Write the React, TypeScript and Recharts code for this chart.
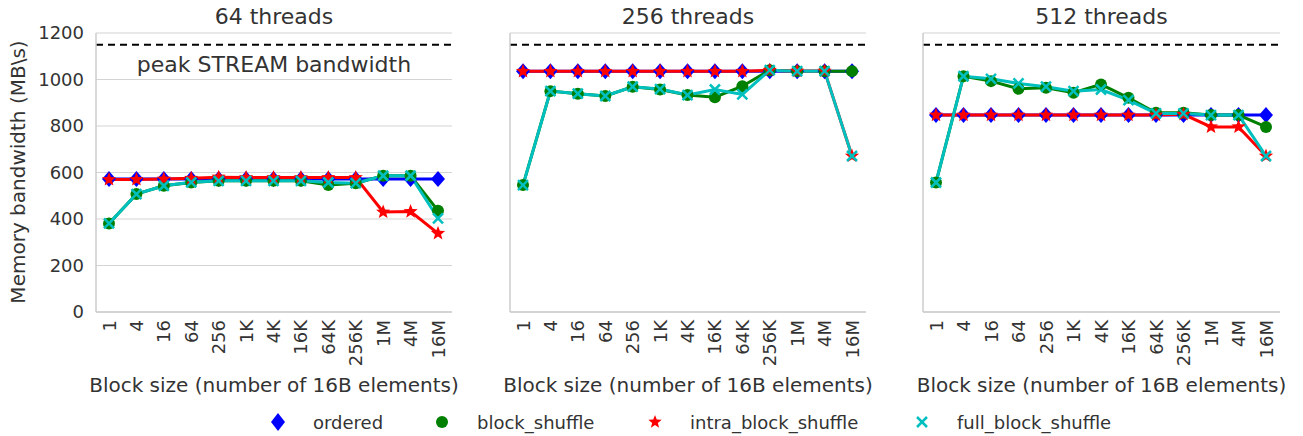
import React from 'react';
import { LineChart, Line, XAxis, YAxis, CartesianGrid, ReferenceLine } from 'recharts';

const blockSizes = ['1', '4', '16', '64', '256', '1K', '4K', '16K', '64K', '256K', '1M', '4M', '16M'];
const yTicks = [0, 200, 400, 600, 800, 1000, 1200];
const peakStream = 1150;

// 64 threads
const ordered64 = [572, 572, 572, 572, 572, 572, 572, 572, 572, 572, 572, 572, 572];
const blockShuffle64 = [381, 507, 543, 557, 564, 564, 564, 564, 546, 554, 586, 586, 436];
const intraBlockShuffle64 = [570, 570, 572, 575, 580, 578, 578, 578, 578, 578, 430, 432, 338];
const fullBlockShuffle64 = [381, 507, 543, 558, 564, 564, 564, 564, 557, 554, 586, 586, 403];

// 256 threads
const ordered256 = [1035, 1035, 1035, 1035, 1035, 1035, 1035, 1035, 1035, 1035, 1035, 1035, 1035];
const blockShuffle256 = [546, 950, 939, 929, 969, 957, 933, 924, 971, 1040, 1036, 1036, 1036];
const intraBlockShuffle256 = [1035, 1035, 1035, 1035, 1035, 1035, 1035, 1035, 1035, 1040, 1036, 1036, 671];
const fullBlockShuffle256 = [546, 950, 939, 929, 969, 959, 933, 957, 936, 1040, 1036, 1036, 671];

// 512 threads
const ordered512 = [847, 847, 847, 847, 847, 847, 847, 847, 847, 847, 847, 847, 847];
const blockShuffle512 = [557, 1014, 993, 960, 964, 943, 979, 921, 857, 857, 847, 847, 796];
const intraBlockShuffle512 = [847, 847, 847, 847, 847, 847, 847, 847, 847, 850, 796, 796, 671];
const fullBlockShuffle512 = [557, 1014, 1003, 983, 969, 950, 957, 911, 854, 854, 847, 847, 671];

const panels = [
  { title: '64 threads', ordered: ordered64, block: blockShuffle64, intra: intraBlockShuffle64, full: fullBlockShuffle64 },
  { title: '256 threads', ordered: ordered256, block: blockShuffle256, intra: intraBlockShuffle256, full: fullBlockShuffle256 },
  { title: '512 threads', ordered: ordered512, block: blockShuffle512, intra: intraBlockShuffle512, full: fullBlockShuffle512 },
];

const FONT = '"DejaVu Sans", sans-serif';
const TEXT = '#333333';
const BLUE = '#0000ff';
const GREEN = '#008000';
const RED = '#ff0000';
const CYAN = '#00bfbf';

const diamondPath = (cx: number, cy: number, w: number, h: number) =>
  `M${cx},${cy - h} L${cx + w},${cy} L${cx},${cy + h} L${cx - w},${cy} Z`;

const starPath = (cx: number, cy: number, ro: number, ri: number) => {
  const pts: string[] = [];
  for (let i = 0; i < 10; i++) {
    const r = i % 2 === 0 ? ro : ri;
    const a = -Math.PI / 2 + (i * Math.PI) / 5;
    pts.push(`${cx + r * Math.cos(a)},${cy + r * Math.sin(a)}`);
  }
  return `M${pts.join(' L')} Z`;
};

const DiamondDot = (p: any) => (
  <path key={`dia-${p.index}`} d={diamondPath(p.cx, p.cy, 7, 8)} fill={BLUE} />
);
const CircleDot = (p: any) => <circle key={`cir-${p.index}`} cx={p.cx} cy={p.cy} r={6} fill={GREEN} />;
const StarDot = (p: any) => <path key={`star-${p.index}`} d={starPath(p.cx, p.cy, 7.5, 3.2)} fill={RED} />;
const CrossDot = (p: any) => (
  <g key={`x-${p.index}`} stroke={CYAN} strokeWidth={2.5}>
    <line x1={p.cx - 5} y1={p.cy - 5} x2={p.cx + 5} y2={p.cy + 5} />
    <line x1={p.cx - 5} y1={p.cy + 5} x2={p.cx + 5} y2={p.cy - 5} />
  </g>
);

const RotatedTick = (props: any) => {
  const { x, y, payload } = props;
  return (
    <text
      x={x}
      y={y}
      transform={`rotate(-90, ${x}, ${y})`}
      textAnchor="end"
      dominantBaseline="central"
      fontSize={18}
      fontFamily={FONT}
      fill={TEXT}
    >
      {payload.value}
    </text>
  );
};

// chart box positions: plot left = left + marginLeft + yWidth
const boxes = [
  { left: 0, width: 460, marginLeft: 36, yWidth: 60, marginRight: 8 },
  { left: 470, width: 400, marginLeft: 39, yWidth: 1, marginRight: 4 },
  { left: 880, width: 408, marginLeft: 42, yWidth: 1, marginRight: 8 },
];

const Panel = ({ idx }: { idx: number }) => {
  const p = panels[idx];
  const b = boxes[idx];
  const data = blockSizes.map((s, i) => ({
    size: s,
    ordered: p.ordered[i],
    block_shuffle: p.block[i],
    intra_block_shuffle: p.intra[i],
    full_block_shuffle: p.full[i],
  }));
  const plotLeft = b.left + b.marginLeft + b.yWidth;
  const plotRight = b.left + b.width - b.marginRight;
  const center = (plotLeft + plotRight) / 2;
  return (
    <>
      <div
        style={{
          position: 'absolute', left: center - 150, width: 300, top: 4, textAlign: 'center',
          fontFamily: FONT, fontSize: 22, color: TEXT, lineHeight: '26px',
        }}
      >
        {p.title}
      </div>
      <div style={{ position: 'absolute', left: b.left, top: 0 }}>
        <LineChart
          width={b.width}
          height={436}
          data={data}
          margin={{ top: 33, right: b.marginRight, left: b.marginLeft, bottom: 0 }}
        >
          <CartesianGrid vertical={false} stroke="#d4d4d4" strokeWidth={1.2} />
          <XAxis
            dataKey="size"
            height={124}
            interval={0}
            padding={{ left: 13, right: 14 }}
            tickLine={false}
            axisLine={{ stroke: '#cccccc', strokeWidth: 1.5 }}
            tick={<RotatedTick />}
          />
          <YAxis
            domain={[0, 1200]}
            ticks={yTicks}
            width={b.yWidth}
            tickLine={false}
            tickMargin={6}
            axisLine={{ stroke: '#cccccc', strokeWidth: 1.5 }}
            tick={idx === 0 ? { fontSize: 18, fontFamily: FONT, fill: TEXT } : false}
          />
          <ReferenceLine y={peakStream} stroke="#000000" strokeWidth={2} strokeDasharray="7 5" />
          <Line dataKey="ordered" stroke={BLUE} strokeWidth={3} dot={DiamondDot} isAnimationActive={false} />
          <Line dataKey="block_shuffle" stroke={GREEN} strokeWidth={3} dot={CircleDot} isAnimationActive={false} />
          <Line dataKey="intra_block_shuffle" stroke={RED} strokeWidth={3} dot={StarDot} isAnimationActive={false} />
          <Line dataKey="full_block_shuffle" stroke={CYAN} strokeWidth={3} dot={CrossDot} isAnimationActive={false} />
        </LineChart>
      </div>
      <div
        style={{
          position: 'absolute', left: center - 220, width: 440, top: 372, textAlign: 'center',
          fontFamily: FONT, fontSize: 20, color: TEXT, lineHeight: '26px', whiteSpace: 'nowrap',
        }}
      >
        Block size (number of 16B elements)
      </div>
      {idx === 0 && (
        <div
          style={{
            position: 'absolute', left: center - 180, width: 360, top: 51, textAlign: 'center',
            fontFamily: FONT, fontSize: 22, color: TEXT, lineHeight: '28px', whiteSpace: 'nowrap',
          }}
        >
          peak STREAM bandwidth
        </div>
      )}
    </>
  );
};

const legendItems = [
  { name: 'ordered', x: 278, marker: <path d={diamondPath(10, 10, 7, 9)} fill={BLUE} /> },
  { name: 'block_shuffle', x: 442, marker: <circle cx={10} cy={10} r={6} fill={GREEN} /> },
  { name: 'intra_block_shuffle', x: 655, marker: <path d={starPath(10, 10, 7, 3)} fill={RED} /> },
  {
    name: 'full_block_shuffle',
    x: 922,
    marker: (
      <g stroke={CYAN} strokeWidth={2.5}>
        <line x1={5} y1={5} x2={15} y2={15} />
        <line x1={5} y1={15} x2={15} y2={5} />
      </g>
    ),
  },
];

export default function App() {
  return (
    <div style={{ position: 'absolute', left: 0, top: 0, width: 1303, height: 436, background: '#fff', overflow: 'hidden' }}>
      {panels.map((_, i) => (
        <Panel key={i} idx={i} />
      ))}
      <div
        style={{
          position: 'absolute', left: 18, top: 172, transform: 'translate(-50%, -50%) rotate(-90deg)',
          fontFamily: FONT, fontSize: 20, color: TEXT, whiteSpace: 'nowrap', lineHeight: '24px',
        }}
      >
        Memory bandwidth (MB\s)
      </div>
      {legendItems.map((it) => (
        <div key={it.name} style={{ position: 'absolute', left: it.x - 10, top: 410, height: 24, display: 'flex', alignItems: 'center' }}>
          <svg width={20} height={20}>{it.marker}</svg>
          <span style={{ marginLeft: 25, fontFamily: FONT, fontSize: 18, color: TEXT }}>{it.name}</span>
        </div>
      ))}
    </div>
  );
}
